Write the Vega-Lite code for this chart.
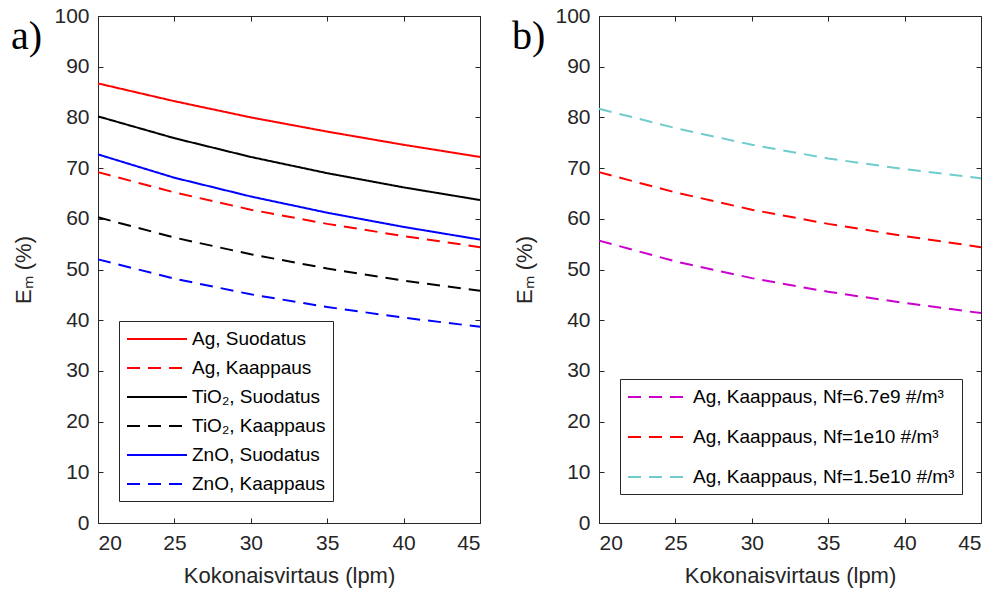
{
  "$schema": "https://vega.github.io/schema/vega-lite/v6.json",
  "padding": {"left": 10, "top": 4, "right": 10, "bottom": 2},
  "bounds": "flush",
  "spacing": 119,
  "resolve": {"scale": {"color": "independent", "strokeDash": "independent"}, "legend": {"color": "independent", "strokeDash": "independent"}},
  "config": {
    "font": "Liberation Sans",
    "view": {"stroke": "#262626", "strokeWidth": 1},
    "axis": {
      "labelFont": "Liberation Sans", "labelFontSize": 21, "labelColor": "#262626",
      "titleFont": "Liberation Sans", "titleFontSize": 22, "titleFontWeight": "normal", "titleColor": "#262626",
      "domainColor": "#262626", "tickColor": "#262626", "grid": false, "tickSize": -5, "labelPadding": 14
    },
    "axisLeft": {"titlePadding": 18},
    "axisBottom": {"titlePadding": 12},
    "legend": {
      "labelFont": "Liberation Sans", "labelFontSize": 19, "labelColor": "#000000", "labelLimit": 400,
      "strokeColor": "#262626", "fillColor": "white", "padding": 7, "symbolStrokeWidth": 2,
      "symbolType": "M-1,0H5", "symbolSize": 400, "labelOffset": 44
    },
    "title": {"font": "Liberation Serif", "fontSize": 40, "fontWeight": "normal", "anchor": "start", "frame": "group", "color": "#000000"}
  },
  "datasets": {
    "a": [
      {"x": 20, "y": 86.7, "s": "Ag, Suodatus"}, {"x": 25, "y": 83.2, "s": "Ag, Suodatus"}, {"x": 30, "y": 80.0, "s": "Ag, Suodatus"}, {"x": 35, "y": 77.2, "s": "Ag, Suodatus"}, {"x": 40, "y": 74.6, "s": "Ag, Suodatus"}, {"x": 45, "y": 72.2, "s": "Ag, Suodatus"},
      {"x": 20, "y": 69.2, "s": "Ag, Kaappaus"}, {"x": 25, "y": 65.2, "s": "Ag, Kaappaus"}, {"x": 30, "y": 61.8, "s": "Ag, Kaappaus"}, {"x": 35, "y": 59.0, "s": "Ag, Kaappaus"}, {"x": 40, "y": 56.6, "s": "Ag, Kaappaus"}, {"x": 45, "y": 54.4, "s": "Ag, Kaappaus"},
      {"x": 20, "y": 80.2, "s": "TiO₂, Suodatus"}, {"x": 25, "y": 75.9, "s": "TiO₂, Suodatus"}, {"x": 30, "y": 72.2, "s": "TiO₂, Suodatus"}, {"x": 35, "y": 69.0, "s": "TiO₂, Suodatus"}, {"x": 40, "y": 66.2, "s": "TiO₂, Suodatus"}, {"x": 45, "y": 63.7, "s": "TiO₂, Suodatus"},
      {"x": 20, "y": 60.3, "s": "TiO₂, Kaappaus"}, {"x": 25, "y": 56.3, "s": "TiO₂, Kaappaus"}, {"x": 30, "y": 53.0, "s": "TiO₂, Kaappaus"}, {"x": 35, "y": 50.2, "s": "TiO₂, Kaappaus"}, {"x": 40, "y": 47.8, "s": "TiO₂, Kaappaus"}, {"x": 45, "y": 45.8, "s": "TiO₂, Kaappaus"},
      {"x": 20, "y": 72.7, "s": "ZnO, Suodatus"}, {"x": 25, "y": 68.1, "s": "ZnO, Suodatus"}, {"x": 30, "y": 64.4, "s": "ZnO, Suodatus"}, {"x": 35, "y": 61.2, "s": "ZnO, Suodatus"}, {"x": 40, "y": 58.4, "s": "ZnO, Suodatus"}, {"x": 45, "y": 55.9, "s": "ZnO, Suodatus"},
      {"x": 20, "y": 52.0, "s": "ZnO, Kaappaus"}, {"x": 25, "y": 48.2, "s": "ZnO, Kaappaus"}, {"x": 30, "y": 45.1, "s": "ZnO, Kaappaus"}, {"x": 35, "y": 42.6, "s": "ZnO, Kaappaus"}, {"x": 40, "y": 40.5, "s": "ZnO, Kaappaus"}, {"x": 45, "y": 38.7, "s": "ZnO, Kaappaus"}
    ],
    "b": [
      {"x": 20, "y": 55.7, "s": "Ag, Kaappaus, Nf=6.7e9 #/m³"}, {"x": 25, "y": 51.6, "s": "Ag, Kaappaus, Nf=6.7e9 #/m³"}, {"x": 30, "y": 48.3, "s": "Ag, Kaappaus, Nf=6.7e9 #/m³"}, {"x": 35, "y": 45.6, "s": "Ag, Kaappaus, Nf=6.7e9 #/m³"}, {"x": 40, "y": 43.4, "s": "Ag, Kaappaus, Nf=6.7e9 #/m³"}, {"x": 45, "y": 41.4, "s": "Ag, Kaappaus, Nf=6.7e9 #/m³"},
      {"x": 20, "y": 69.2, "s": "Ag, Kaappaus, Nf=1e10 #/m³"}, {"x": 25, "y": 65.2, "s": "Ag, Kaappaus, Nf=1e10 #/m³"}, {"x": 30, "y": 61.8, "s": "Ag, Kaappaus, Nf=1e10 #/m³"}, {"x": 35, "y": 59.0, "s": "Ag, Kaappaus, Nf=1e10 #/m³"}, {"x": 40, "y": 56.6, "s": "Ag, Kaappaus, Nf=1e10 #/m³"}, {"x": 45, "y": 54.4, "s": "Ag, Kaappaus, Nf=1e10 #/m³"},
      {"x": 20, "y": 81.7, "s": "Ag, Kaappaus, Nf=1.5e10 #/m³"}, {"x": 25, "y": 77.9, "s": "Ag, Kaappaus, Nf=1.5e10 #/m³"}, {"x": 30, "y": 74.6, "s": "Ag, Kaappaus, Nf=1.5e10 #/m³"}, {"x": 35, "y": 71.9, "s": "Ag, Kaappaus, Nf=1.5e10 #/m³"}, {"x": 40, "y": 69.8, "s": "Ag, Kaappaus, Nf=1.5e10 #/m³"}, {"x": 45, "y": 68.0, "s": "Ag, Kaappaus, Nf=1.5e10 #/m³"}
    ]
  },
  "hconcat": [
    {
      "width": 382, "height": 507,
      "title": {"text": "a)", "dx": -87, "dy": 52, "offset": 0},
      "data": {"name": "a"},
      "resolve": {"axis": {"x": "independent", "y": "independent"}},
      "layer": [
        {
          "mark": {"type": "line", "strokeWidth": 2},
          "encoding": {
            "x": {"field": "x", "type": "quantitative", "scale": {"domain": [20, 45], "nice": false, "zero": false},
                  "axis": {"values": [20, 25, 30, 35, 40, 45], "title": "Kokonaisvirtaus (lpm)"}},
            "y": {"field": "y", "type": "quantitative", "scale": {"domain": [0, 100], "nice": false},
                  "axis": {"values": [0, 10, 20, 30, 40, 50, 60, 70, 80, 90, 100], "title": "Eₘ (%)"}},
            "color": {"field": "s", "type": "nominal", "sort": null,
                      "scale": {"domain": ["Ag, Suodatus", "Ag, Kaappaus", "TiO₂, Suodatus", "TiO₂, Kaappaus", "ZnO, Suodatus", "ZnO, Kaappaus"],
                                "range": ["#ff0000", "#ff0000", "#000000", "#000000", "#0000ff", "#0000ff"]},
                      "legend": {"title": null, "orient": "none", "legendX": 21, "legendY": 305, "rowPadding": 8}},
            "strokeDash": {"field": "s", "type": "nominal", "sort": null,
                      "scale": {"domain": ["Ag, Suodatus", "Ag, Kaappaus", "TiO₂, Suodatus", "TiO₂, Kaappaus", "ZnO, Suodatus", "ZnO, Kaappaus"],
                                "range": [[1, 0], [13, 8], [1, 0], [13, 8], [1, 0], [13, 8]]},
                      "legend": {"title": null, "orient": "none", "legendX": 21, "legendY": 305, "rowPadding": 8}}
          }
        },
        {
          "mark": {"type": "line", "opacity": 0},
          "encoding": {
            "x": {"field": "x", "type": "quantitative", "axis": {"orient": "top", "values": [20, 25, 30, 35, 40, 45], "labels": false, "title": null, "domain": false}},
            "y": {"field": "y", "type": "quantitative", "axis": {"orient": "right", "values": [0, 10, 20, 30, 40, 50, 60, 70, 80, 90, 100], "labels": false, "title": null, "domain": false}}
          }
        }
      ]
    },
    {
      "width": 382, "height": 507,
      "title": {"text": "b)", "dx": -87, "dy": 52, "offset": 0},
      "data": {"name": "b"},
      "resolve": {"axis": {"x": "independent", "y": "independent"}},
      "layer": [
        {
          "mark": {"type": "line", "strokeWidth": 2},
          "encoding": {
            "x": {"field": "x", "type": "quantitative", "scale": {"domain": [20, 45], "nice": false, "zero": false},
                  "axis": {"values": [20, 25, 30, 35, 40, 45], "title": "Kokonaisvirtaus (lpm)"}},
            "y": {"field": "y", "type": "quantitative", "scale": {"domain": [0, 100], "nice": false},
                  "axis": {"values": [0, 10, 20, 30, 40, 50, 60, 70, 80, 90, 100], "title": "Eₘ (%)"}},
            "color": {"field": "s", "type": "nominal", "sort": null,
                      "scale": {"domain": ["Ag, Kaappaus, Nf=6.7e9 #/m³", "Ag, Kaappaus, Nf=1e10 #/m³", "Ag, Kaappaus, Nf=1.5e10 #/m³"],
                                "range": ["#cc00cc", "#ff0000", "#70cccc"]},
                      "legend": {"title": null, "orient": "none", "legendX": 21, "legendY": 363, "rowPadding": 19}},
            "strokeDash": {"field": "s", "type": "nominal", "sort": null,
                      "scale": {"domain": ["Ag, Kaappaus, Nf=6.7e9 #/m³", "Ag, Kaappaus, Nf=1e10 #/m³", "Ag, Kaappaus, Nf=1.5e10 #/m³"],
                                "range": [[13, 8], [13, 8], [13, 8]]},
                      "legend": {"title": null, "orient": "none", "legendX": 21, "legendY": 363, "rowPadding": 19}}
          }
        },
        {
          "mark": {"type": "line", "opacity": 0},
          "encoding": {
            "x": {"field": "x", "type": "quantitative", "axis": {"orient": "top", "values": [20, 25, 30, 35, 40, 45], "labels": false, "title": null, "domain": false}},
            "y": {"field": "y", "type": "quantitative", "axis": {"orient": "right", "values": [0, 10, 20, 30, 40, 50, 60, 70, 80, 90, 100], "labels": false, "title": null, "domain": false}}
          }
        }
      ]
    }
  ]
}
